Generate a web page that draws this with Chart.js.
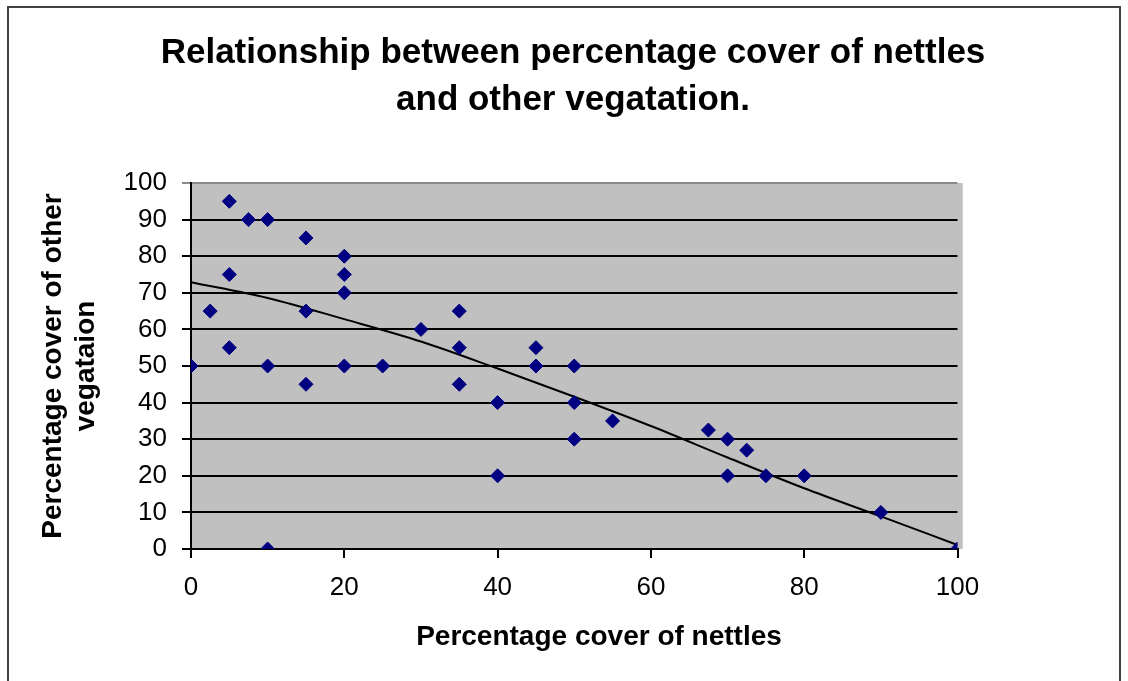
<!DOCTYPE html>
<html>
<head>
<meta charset="utf-8">
<script src="https://cdn.jsdelivr.net/npm/chart.js@4/dist/chart.umd.min.js"></script>
<style>
  html, body { margin: 0; padding: 0; background: #ffffff; }
  #wrap { width: 1128px; height: 681px; }
</style>
</head>
<body>
<div id="wrap"><canvas id="chart" width="1128" height="681"></canvas></div>
<script>
// Survey quadrats: percentage cover of nettles vs. percentage cover of other vegetation
const nettleCover = [0, 2.5, 5, 5, 5, 7.5, 10, 10, 10, 15, 15, 15, 20, 20, 20, 20, 25, 30, 35, 35, 35,
                     40, 40, 45, 45, 50, 50, 50, 55, 67.5, 70, 72.5, 70, 75, 80, 90, 100];
const otherCover  = [50, 65, 95, 75, 55, 90, 90, 50, 0, 85, 65, 45, 80, 75, 70, 50, 50, 60, 65, 55, 45,
                     40, 20, 55, 50, 50, 40, 30, 35, 32.5, 30, 27, 20, 20, 20, 10, 0];

// Trendline, sampled every 10 % of nettle cover
const trendX = [0, 10, 20, 30, 40, 50, 60, 70, 80, 90, 100];
const trendY = [72.9, 68.6, 62.8, 56.7, 49.3, 41.6, 33.6, 25.0, 16.6, 8.9, 1.1];

const xTickValues = [0, 20, 40, 60, 80, 100];
const yTickValues = [0, 10, 20, 30, 40, 50, 60, 70, 80, 90, 100];

const chartTitle = ['Relationship between percentage cover of nettles', 'and other vegatation.'];
const xAxisTitle = 'Percentage cover of nettles';
const yAxisTitle = ['Percentage cover of other', 'vegataion'];

const FONT = '"Liberation Sans", Arial, Helvetica, sans-serif';

const scatterPoints = nettleCover.map((x, i) => ({ x, y: otherCover[i] }));
const trendPoints = trendX.map((x, i) => ({ x, y: trendY[i] }));

// Page frame and grey plot area behind the grid
const framePlugin = {
  id: 'frame',
  beforeDraw(chart) {
    const { ctx, chartArea } = chart;
    ctx.save();
    ctx.fillStyle = '#ffffff';
    ctx.fillRect(0, 0, chart.width, chart.height);
    ctx.strokeStyle = '#404040';
    ctx.lineWidth = 2;
    ctx.strokeRect(8, 7, 1112, 700);
    ctx.fillStyle = '#c0c0c0';
    ctx.fillRect(chartArea.left, chartArea.top, chartArea.right - chartArea.left + 4, chartArea.bottom - chartArea.top);
    ctx.strokeStyle = '#a0a0a0';
    ctx.lineWidth = 1;
    ctx.beginPath();
    ctx.moveTo(chartArea.right + 4.5, chartArea.top);
    ctx.lineTo(chartArea.right + 4.5, chartArea.bottom);
    ctx.stroke();
    ctx.restore();
  },
  // x-axis caption, set a little right of the plot centre
  afterDraw(chart) {
    const { ctx } = chart;
    ctx.save();
    ctx.fillStyle = '#000000';
    ctx.font = 'bold 28px ' + FONT;
    ctx.textAlign = 'center';
    ctx.textBaseline = 'middle';
    ctx.fillText(xAxisTitle, 599, 637);
    ctx.restore();
  }
};

new Chart(document.getElementById('chart'), {
  type: 'scatter',
  data: {
    datasets: [
      {
        label: 'Other vegetation',
        data: scatterPoints,
        pointStyle: 'rectRot',
        pointRadius: 7,
        pointHoverRadius: 7,
        backgroundColor: '#000080',
        borderColor: '#000080',
        borderWidth: 1,
        order: 1
      },
      {
        label: 'Trend',
        type: 'line',
        data: trendPoints,
        showLine: true,
        pointRadius: 0,
        borderColor: '#000000',
        borderWidth: 2,
        cubicInterpolationMode: 'monotone',
        fill: false,
        order: 2
      }
    ]
  },
  options: {
    responsive: false,
    devicePixelRatio: 1,
    animation: false,
    layout: { padding: { left: 18, right: 0, top: 0, bottom: 0 } },
    plugins: {
      legend: { display: false },
      tooltip: { enabled: false },
      title: {
        display: true,
        text: chartTitle,
        color: '#000000',
        font: { family: FONT, size: 35, weight: 'bold', lineHeight: 47 / 35 },
        padding: { top: 30, bottom: 59 }
      }
    },
    scales: {
      x: {
        type: 'linear',
        min: 0,
        max: 100,
        afterBuildTicks(scale) { scale.ticks = xTickValues.map(v => ({ value: v })); },
        afterFit(scale) { scale.height = 132; },
        ticks: {
          color: '#000000',
          font: { family: FONT, size: 26, lineHeight: 1.2 },
          padding: 14,
          maxRotation: 0
        },
        grid: {
          drawOnChartArea: false,
          drawTicks: true,
          tickLength: 9,
          color: '#000000',
          lineWidth: 2
        },
        border: { display: true, color: '#000000', width: 2 },
        title: { display: false }
      },
      y: {
        type: 'linear',
        position: 'left',
        min: 0,
        max: 100,
        afterBuildTicks(scale) { scale.ticks = yTickValues.map(v => ({ value: v })); },
        afterFit(scale) { scale.width = 173; },
        ticks: {
          color: '#000000',
          font: { family: FONT, size: 26, lineHeight: 1.2 },
          padding: 15
        },
        grid: {
          drawTicks: true,
          tickLength: 9,
          color: ctx => (ctx.tick && ctx.tick.value === 100 ? '#8a8a8a' : '#000000'),
          lineWidth: 2
        },
        border: { display: true, color: '#000000', width: 2 },
        title: {
          display: true,
          text: yAxisTitle,
          color: '#000000',
          font: { family: FONT, size: 28, weight: 'bold', lineHeight: 33 / 28 },
          padding: { top: 18.5, bottom: 0 }
        }
      },
      spacer: {
        type: 'linear',
        position: 'right',
        display: true,
        afterFit(scale) { scale.width = 170.5; },
        ticks: { display: false },
        grid: { display: false },
        border: { display: false }
      }
    }
  },
  plugins: [framePlugin]
});
</script>
</body>
</html>
